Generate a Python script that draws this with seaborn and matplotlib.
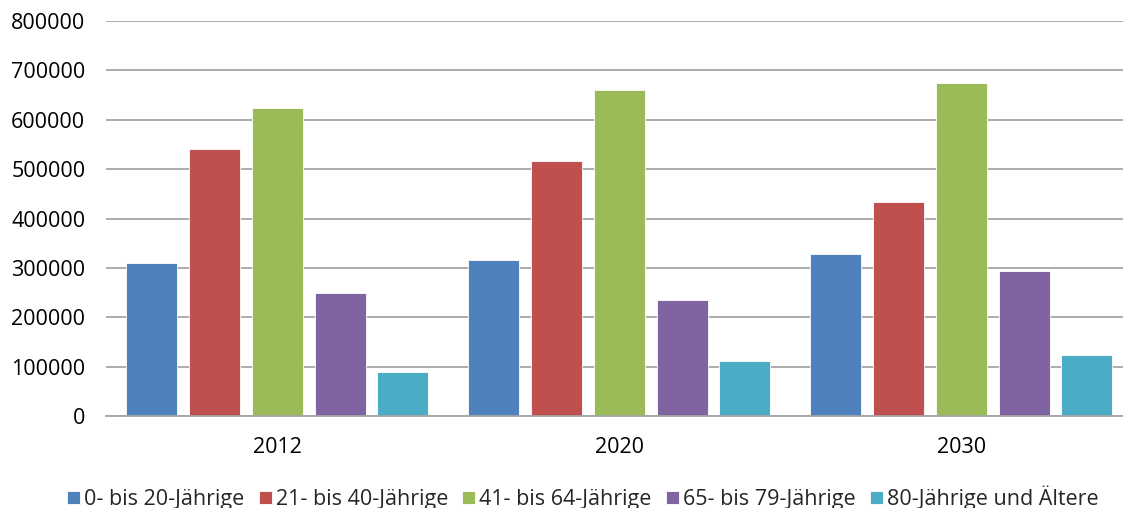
import matplotlib
matplotlib.use("Agg")
import matplotlib.pyplot as plt
import seaborn as sns
import pandas as pd

# Bevölkerung nach Altersgruppen
years = ["2012", "2020", "2030"]
groups = ["0- bis 20-Jährige", "21- bis 40-Jährige", "41- bis 64-Jährige",
          "65- bis 79-Jährige", "80-Jährige und Ältere"]
age_0_20 = [309500, 317000, 329000]
age_21_40 = [540000, 517000, 432500]
age_41_64 = [623000, 660000, 674000]
age_65_79 = [249000, 234000, 293000]
age_80_plus = [88600, 112000, 123000]
colors = ["#4F81BD", "#C0504D", "#9BBB59", "#8064A2", "#4BACC6"]
yticks = [0, 100000, 200000, 300000, 400000, 500000, 600000, 700000, 800000]


def main():
    series = [age_0_20, age_21_40, age_41_64, age_65_79, age_80_plus]
    rows = []
    for g, vals in zip(groups, series):
        for y, v in zip(years, vals):
            rows.append({"Jahr": y, "Gruppe": g, "Wert": v})
    df = pd.DataFrame(rows)

    sns.set_style("white")
    plt.rcParams['font.family'] = ['Open Sans', 'DejaVu Sans']

    fig = plt.figure(figsize=(11.23, 5.08), dpi=100)
    # Achse reicht etwas über den rechten Rand hinaus (wie im Original)
    ax = fig.add_axes([0.0945, 0.181, 0.9136, 0.7777])

    sns.barplot(data=df, x="Jahr", y="Wert", hue="Gruppe", hue_order=groups,
                palette=colors, width=0.92, gap=0.19, saturation=1,
                edgecolor="white", linewidth=0.6, ax=ax, legend=True)

    ax.set_ylim(0, 800000)
    ax.set_xlim(-0.5, 2.5)
    ax.set_yticks(yticks)
    ax.set_yticklabels([str(t) for t in yticks])
    ax.yaxis.grid(True, color="#a6a6a6", linewidth=1.3)
    ax.set_axisbelow(True)
    for s in ["top", "right", "left"]:
        ax.spines[s].set_visible(False)
    ax.spines["bottom"].set_color("#a6a6a6")
    ax.spines["bottom"].set_linewidth(1.3)
    ax.tick_params(axis="both", length=0, labelsize=15.5, colors="black")
    ax.tick_params(axis="y", pad=15)
    ax.tick_params(axis="x", pad=15)
    ax.set_xlabel("")
    ax.set_ylabel("")

    handles, labels = ax.get_legend_handles_labels()
    ax.get_legend().remove()
    fig.legend(handles, labels, loc="center", bbox_to_anchor=(0.519, 0.02),
               ncol=5, frameon=False, fontsize=15.5, handlelength=0.6,
               handleheight=0.6, handletextpad=0.2, columnspacing=0.65)

    plt.savefig("out.png", dpi=100)
    plt.close()


if __name__ == "__main__":
    main()
